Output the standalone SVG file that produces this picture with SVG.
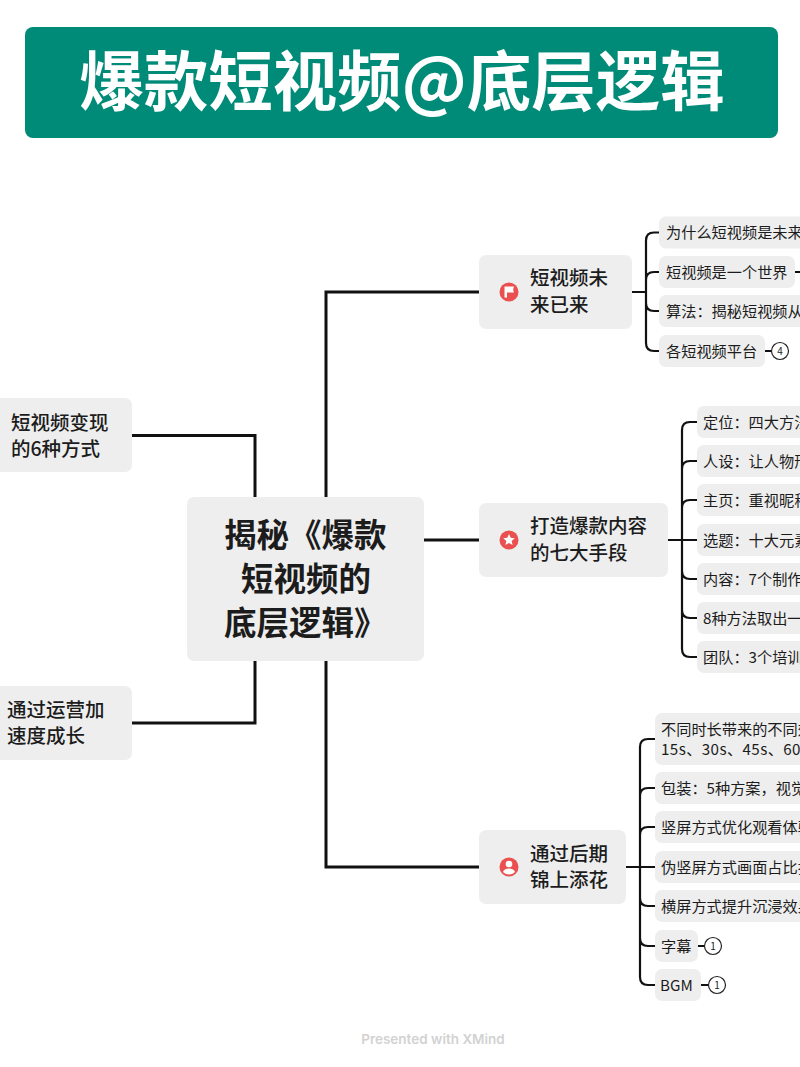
<svg xmlns="http://www.w3.org/2000/svg" width="800" height="1067" viewBox="0 0 800 1067">
<style>
text{font-family:"Noto Sans CJK SC","Noto Sans",sans-serif;fill:#1c1c1c}
.box{fill:#eeeeee}
.t1{font-size:19.500px;font-weight:500}
.t2{font-size:15.200px}
.c0{fill:none;stroke:#111;stroke-width:3}
.c1{fill:none;stroke:#111;stroke-width:2.200}
.ring{fill:#fff;stroke:#222;stroke-width:1.200}
.num{font-size:10px;text-anchor:middle}
.ic{fill:#e9504f}
.icw{fill:#fff}
</style>
<rect width="800" height="1067" fill="#fff"/>
<g id="title"><rect x="25" y="27" width="753" height="111" rx="8" fill="#008a78"/><text x="402" y="105" text-anchor="middle" style="font-size:64.500px;font-weight:700;fill:#fff">爆款短视频@底层逻辑</text></g>
<g id="connectors">
<path class="c0" d="M132 435.500H255V497M132 723H255V661M326 497V292H479M326 661V867H479M424 540H479"/>
<path class="c1" d="M632 292H646M659 232.500H654Q646 232.500 646 240.500V343Q646 351 654 351H659M646 280Q646 272 654 272H659M646 303Q646 311 654 311H659"/>
<path class="c1" d="M668 540H697M697 422H690Q682 422 682 430V649Q682 657 690 657H697M682 469Q682 461 690 461H697M682 508Q682 500 690 500H697M682 571Q682 579 690 579H697M682 610Q682 618 690 618H697"/>
<path class="c1" d="M626 867H655M655 739H648Q640 739 640 747V977Q640 985 648 985H655M640 796Q640 788 648 788H655M640 835Q640 827 648 827H655M640 898Q640 906 648 906H655M640 938Q640 946 648 946H655"/>
<path class="c1" d="M795 272H800M765 351H771M698 946H704M701 985H708"/>
</g>
<g id="root"><rect class="box" x="187" y="497" width="237" height="164" rx="7"/>
<text style="font-size:32.500px;font-weight:700"><tspan x="224" y="547">揭秘《爆款</tspan><tspan x="241" y="591">短视频的</tspan><tspan x="224" y="635">底层逻辑》</tspan></text></g>
<g id="left-1"><rect class="box" x="-12" y="398" width="144" height="74" rx="7"/><text class="t1"><tspan x="11" y="429.500">短视频变现</tspan><tspan x="11" y="455.500">的6种方式</tspan></text></g>
<g id="left-2"><rect class="box" x="-12" y="686" width="144" height="74" rx="7"/><text class="t1"><tspan x="7" y="717">通过运营加</tspan><tspan x="7" y="743">速度成长</tspan></text></g>
<g id="branch-a"><rect class="box" x="479" y="255" width="153" height="74" rx="7"/>
<circle class="ic" cx="509" cy="292" r="9.500"/><path class="icw" d="M504.500 286.500H514Q512.500 289.500 514 292.500H507V297.500H504.500Z"/>
<text class="t1"><tspan x="530" y="285">短视频未</tspan><tspan x="530" y="312">来已来</tspan></text></g>
<g id="branch-b"><rect class="box" x="479" y="503" width="189" height="74" rx="7"/>
<circle class="ic" cx="509" cy="540" r="9.500"/><path class="icw" d="M509 534L510.700 537.800L514.800 538.200L511.700 541L512.600 545L509 542.900L505.400 545L506.300 541L503.200 538.200L507.300 537.800Z"/>
<text class="t1"><tspan x="530" y="533">打造爆款内容</tspan><tspan x="530" y="560">的七大手段</tspan></text></g>
<g id="branch-c"><rect class="box" x="479" y="830" width="147" height="74" rx="7"/>
<circle class="ic" cx="509" cy="867" r="9.500"/><circle class="icw" cx="509" cy="864" r="3.300"/><path class="icw" d="M503 872Q504 868.500 509 868.500Q514 868.500 515 872Q512.500 874.500 509 874.500Q505.500 874.500 503 872Z"/>
<text class="t1"><tspan x="530" y="861">通过后期</tspan><tspan x="530" y="887">锦上添花</tspan></text></g>
<g id="a1"><rect class="box" x="659" y="216.500" width="160" height="32" rx="7"/><text class="t2" x="666" y="238">为什么短视频是未来</text></g>
<g id="a2"><rect class="box" x="659" y="256" width="136" height="32" rx="7"/><text class="t2" x="666" y="277.500">短视频是一个世界</text></g>
<g id="a3"><rect class="box" x="659" y="295" width="160" height="32" rx="7"/><text class="t2" x="666" y="316.500">算法：揭秘短视频从</text></g>
<g id="a4"><rect class="box" x="659" y="335" width="106" height="32" rx="7"/><text class="t2" x="666" y="356.500">各短视频平台</text><circle class="ring" cx="780" cy="351" r="8.500"/><text class="num" x="780" y="354.500">4</text></g>
<g id="b1"><rect class="box" x="697" y="406" width="120" height="32" rx="7"/><text class="t2" x="703" y="427.500">定位：四大方法</text></g>
<g id="b2"><rect class="box" x="697" y="445" width="120" height="32" rx="7"/><text class="t2" x="703" y="466.500">人设：让人物形</text></g>
<g id="b3"><rect class="box" x="697" y="484" width="120" height="32" rx="7"/><text class="t2" x="703" y="505.500">主页：重视昵称</text></g>
<g id="b4"><rect class="box" x="697" y="524" width="120" height="32" rx="7"/><text class="t2" x="703" y="545.500">选题：十大元素</text></g>
<g id="b5"><rect class="box" x="697" y="563" width="120" height="32" rx="7"/><text class="t2" x="703" y="584.500">内容：7个制作</text></g>
<g id="b6"><rect class="box" x="697" y="602" width="120" height="32" rx="7"/><text class="t2" x="703" y="623.500">8种方法取出一</text></g>
<g id="b7"><rect class="box" x="697" y="641" width="120" height="32" rx="7"/><text class="t2" x="703" y="662.500">团队：3个培训</text></g>
<g id="c1"><rect class="box" x="655" y="713" width="165" height="52" rx="7"/><text class="t2"><tspan x="661" y="735">不同时长带来的不同效</tspan><tspan x="661" y="755" letter-spacing="0.400">15s、30s、45s、60s</tspan></text></g>
<g id="c2"><rect class="box" x="655" y="772" width="165" height="32" rx="7"/><text class="t2" x="661" y="793.500">包装：5种方案，视觉</text></g>
<g id="c3"><rect class="box" x="655" y="811" width="165" height="32" rx="7"/><text class="t2" x="661" y="832.500">竖屏方式优化观看体验</text></g>
<g id="c4"><rect class="box" x="655" y="851" width="165" height="32" rx="7"/><text class="t2" x="661" y="872.500">伪竖屏方式画面占比打</text></g>
<g id="c5"><rect class="box" x="655" y="890" width="165" height="32" rx="7"/><text class="t2" x="661" y="911.500">横屏方式提升沉浸效果</text></g>
<g id="c6"><rect class="box" x="655" y="930" width="43" height="32" rx="7"/><text class="t2" x="661" y="951.500">字幕</text><circle class="ring" cx="713" cy="946" r="8.500"/><text class="num" x="713" y="949.500">1</text></g>
<g id="c7"><rect class="box" x="655" y="969" width="46" height="32" rx="7"/><text class="t2" x="660" y="990.500">BGM</text><circle class="ring" cx="717" cy="985" r="8.500"/><text class="num" x="717" y="988.500">1</text></g>
<text x="433" y="1044" text-anchor="middle" style="font-family:Inter,'Noto Sans',sans-serif;font-size:13.500px;font-weight:600;fill:#d2d2d2">Presented with XMind</text>
</svg>
